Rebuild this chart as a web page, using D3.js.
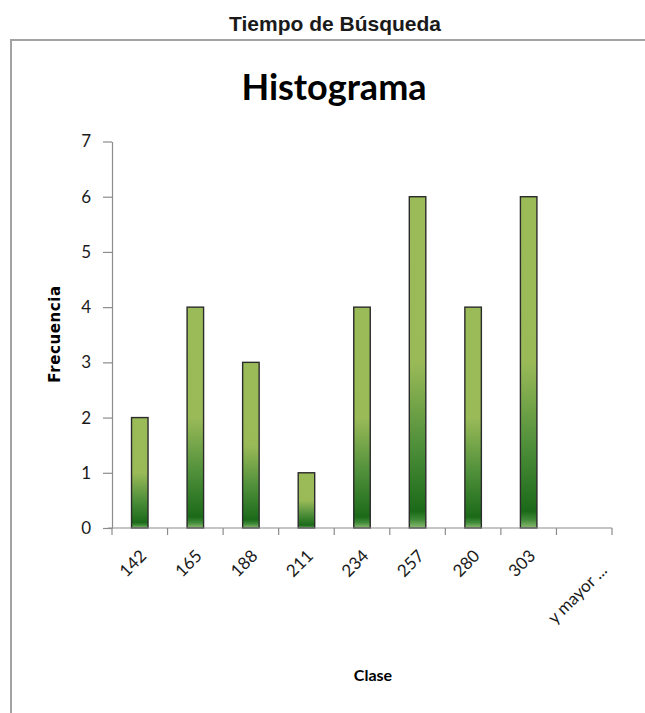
<!DOCTYPE html>
<html>
<head>
<meta charset="utf-8">
<script src="https://cdn.jsdelivr.net/npm/d3@7"></script>
<style>
  html, body { margin: 0; padding: 0; background: #fff; }
  svg { display: block; }
</style>
</head>
<body>
<svg id="chart" width="645" height="713"></svg>
<script>
// Histogram of search times: class upper bounds and their frequencies
const classes = ["142", "165", "188", "211", "234", "257", "280", "303", "y mayor ..."];
const frequencies = [2, 4, 3, 1, 4, 6, 4, 6, 0];
const yTicks = [0, 1, 2, 3, 4, 5, 6, 7];

const svg = d3.select("#chart");
const W = 645, H = 713;
const margin = { left: 112, right: 33, top: 141.5, bottom: 185 };
const plotW = W - margin.left - margin.right;
const plotH = H - margin.top - margin.bottom;

// Gradient fill for the bars (light olive at top, deep green toward the base)
const defs = svg.append("defs");
const grad = defs.append("linearGradient")
  .attr("id", "barFill").attr("x1", 0).attr("y1", 0).attr("x2", 0).attr("y2", 1);
[[0, "#9bbb59"], [0.5, "#9aba58"], [0.75, "#4f8f3a"], [0.95, "#1b6a19"], [0.975, "#3f8a38"], [1, "#8dbb72"]]
  .forEach(([o, c]) => grad.append("stop").attr("offset", o).attr("stop-color", c));

// Page title
svg.append("text")
  .attr("x", 335).attr("y", 31)
  .attr("text-anchor", "middle")
  .attr("font-family", "'Liberation Sans Narrow', 'Liberation Sans', Arial, sans-serif")
  .attr("font-weight", "bold")
  .attr("font-size", 21)
  .attr("textLength", 212)
  .attr("lengthAdjust", "spacingAndGlyphs")
  .attr("fill", "#1a1a1a")
  .text("Tiempo de Búsqueda");

// Chart frame (continues past the right and bottom edges)
svg.append("path")
  .attr("d", `M11,${H + 5} L11,40 L${W + 5},40`)
  .attr("fill", "none").attr("stroke", "#a3a3a3").attr("stroke-width", 2);

// Chart title
svg.append("text")
  .attr("x", 334).attr("y", 100)
  .attr("text-anchor", "middle")
  .attr("font-family", "Lato, 'Open Sans', sans-serif")
  .attr("font-weight", "bold")
  .attr("font-size", 36)
  .attr("fill", "#000")
  .text("Histograma");

const x = d3.scaleBand().domain(classes).range([margin.left, margin.left + plotW]).padding(0);
const y = d3.scaleLinear().domain([0, 7]).range([margin.top + plotH, margin.top]);

// Bars
const barW = 16.5;
svg.append("g").selectAll("rect")
  .data(classes.map((c, i) => ({ c, v: frequencies[i] })).filter(d => d.v > 0))
  .join("rect")
  .attr("x", d => x(d.c) + x.bandwidth() / 2 - barW / 2)
  .attr("y", d => y(d.v))
  .attr("width", barW)
  .attr("height", d => y(0) - y(d.v))
  .attr("fill", "url(#barFill)")
  .attr("stroke", "#2b2b2b")
  .attr("stroke-width", 1.4);

// Y axis
const yAxis = svg.append("g")
  .attr("transform", `translate(${margin.left},0)`)
  .call(d3.axisLeft(y).tickValues(yTicks).tickFormat(d3.format("d")).tickSize(9).tickSizeOuter(0).tickPadding(12));
yAxis.select(".domain").attr("stroke", "#8c8c8c").attr("stroke-width", 1.2);
yAxis.selectAll(".tick line").attr("stroke", "#8c8c8c").attr("stroke-width", 1.2);
yAxis.selectAll(".tick text")
  .attr("font-family", "Lato, 'Open Sans', sans-serif")
  .attr("font-size", 17)
  .attr("fill", "#1a1a1a");

// X axis: baseline plus ticks at the band boundaries
const xg = svg.append("g");
const x0 = margin.left, x1 = margin.left + plotW, yBase = y(0);
xg.append("line")
  .attr("x1", x0 - 4).attr("x2", x1).attr("y1", yBase).attr("y2", yBase)
  .attr("stroke", "#8c8c8c").attr("stroke-width", 1.2);
const bounds = classes.map(c => x(c)).concat([x1]);
xg.selectAll("line.tk").data(bounds).join("line")
  .attr("class", "tk")
  .attr("x1", d => d).attr("x2", d => d)
  .attr("y1", yBase).attr("y2", yBase + 7)
  .attr("stroke", "#8c8c8c").attr("stroke-width", 1.2);

// Rotated category labels, bounding box centred slightly left of each band centre
const labels = xg.selectAll("text.cat").data(classes).join("text")
  .attr("class", "cat")
  .attr("font-family", "Lato, 'Open Sans', sans-serif")
  .attr("font-size", 17)
  .attr("fill", "#1a1a1a")
  .attr("text-anchor", "end")
  .text(d => d);
labels.each(function (d) {
  const L = this.getComputedTextLength();
  const cx = x(d) + x.bandwidth() / 2;
  const ex = cx - 7 + (L + 12) * 0.354;
  const ey = yBase + 29 + Math.max(0, L - 30) * 0.32;
  d3.select(this).attr("transform", `translate(${ex},${ey}) rotate(-45)`);
});

// Axis titles
svg.append("text")
  .attr("transform", "translate(60,334) rotate(-90)")
  .attr("text-anchor", "middle")
  .attr("font-family", "'DejaVu Sans', Verdana, sans-serif")
  .attr("font-weight", "bold")
  .attr("font-size", 15)
  .attr("letter-spacing", 0.6)
  .attr("fill", "#000")
  .text("Frecuencia");

svg.append("text")
  .attr("x", 373).attr("y", 681)
  .attr("text-anchor", "middle")
  .attr("font-family", "Lato, 'Open Sans', sans-serif")
  .attr("font-weight", "bold")
  .attr("font-size", 16)
  .attr("fill", "#000")
  .text("Clase");
</script>
</body>
</html>
